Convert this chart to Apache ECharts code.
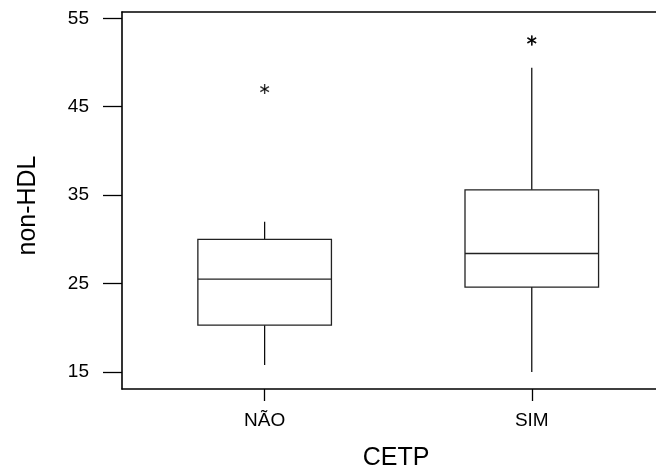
<!DOCTYPE html>
<html>
<head>
<meta charset="utf-8">
<script src="https://cdn.jsdelivr.net/npm/echarts@6/dist/echarts.min.js"></script>
<style>
  html, body { margin: 0; padding: 0; background: #fff; }
  #chart { width: 656px; height: 476px; }
</style>
</head>
<body>
<div id="chart"></div>
<script>
// categories sit at x = 1, 2 on a value axis
const categories = ['NÃO', 'SIM'];
const catPos = [1, 2];
const lowWhisker = [15.8, 15.0];
const q1 = [20.3, 24.6];
const median = [25.5, 28.4];
const q3 = [30.0, 35.6];
const highWhisker = [32.0, 49.4];
// outliers
const outlierPos = [1, 2, 2];
const outlierValue = [47.0, 52.5, 52.5];
const yTicks = [15, 25, 35, 45, 55];

const font = 'Liberation Sans, Arial, sans-serif';

const boxData = catPos.map((p, i) => [p, lowWhisker[i], q1[i], median[i], q3[i], highWhisker[i]]);
const outData = outlierPos.map((p, i) => [p, outlierValue[i]]);

function renderBox(params, api) {
  const x = api.value(0);
  const half = api.size([0.5, 0])[0] / 2;
  const lo = api.coord([x, api.value(1)]);
  const b1 = api.coord([x, api.value(2)]);
  const md = api.coord([x, api.value(3)]);
  const b3 = api.coord([x, api.value(4)]);
  const hi = api.coord([x, api.value(5)]);
  const cx = lo[0];
  const whisk = { stroke: '#000', lineWidth: 1.2 };
  const box = { stroke: '#222', lineWidth: 1.3, fill: null };
  return {
    type: 'group',
    children: [
      { type: 'line', shape: { x1: cx, y1: lo[1], x2: cx, y2: b1[1] }, style: whisk },
      { type: 'line', shape: { x1: cx, y1: b3[1], x2: cx, y2: hi[1] }, style: whisk },
      { type: 'rect', shape: { x: cx - half, y: b3[1], width: half * 2, height: b1[1] - b3[1] }, style: box },
      { type: 'line', shape: { x1: cx - half, y1: md[1], x2: cx + half, y2: md[1] }, style: box }
    ]
  };
}

// asterisk = three thin rotated bars
const starSeries = [0, 60, -60].map(a => ({
  type: 'scatter',
  data: outData,
  symbol: 'rect',
  symbolSize: [1.4, 10],
  symbolRotate: a,
  itemStyle: { color: '#000' },
  silent: true,
  z: 5
}));

const chart = echarts.init(document.getElementById('chart'));
chart.setOption({
  animation: false,
  grid: { left: 122, right: 0, top: 12, bottom: 86 },
  xAxis: [
    {
      type: 'value',
      min: 0.466,
      max: 2.465,
      position: 'bottom',
      name: 'CETP',
      nameLocation: 'middle',
      nameGap: 57,
      nameTextStyle: { fontSize: 25, color: '#000', fontFamily: font, padding: [0, 0, 0, 14] },
      axisLine: { show: true, lineStyle: { color: '#000', width: 1.6 } },
      axisTick: { show: true, length: 12, customValues: catPos, lineStyle: { color: '#000', width: 1.3 } },
      axisLabel: {
        customValues: catPos,
        margin: 22,
        fontSize: 19,
        color: '#000',
        fontFamily: font,
        formatter: v => categories[Math.round(v) - 1]
      },
      splitLine: { show: false }
    },
    {
      type: 'value',
      min: 0.466,
      max: 2.465,
      position: 'top',
      axisLine: { show: true, lineStyle: { color: '#000', width: 1.6 } },
      axisTick: { show: false },
      axisLabel: { show: false },
      splitLine: { show: false }
    }
  ],
  yAxis: {
    type: 'value',
    min: 13.08,
    max: 55.71,
    name: 'non-HDL',
    nameLocation: 'middle',
    nameGap: 81,
    nameRotate: 90,
    nameTextStyle: { fontSize: 25, color: '#000', fontFamily: font, padding: [0, 10, 0, 0] },
    axisLine: { show: true, lineStyle: { color: '#000', width: 1.6 } },
    axisTick: { show: true, length: 19, customValues: yTicks, lineStyle: { color: '#000', width: 1.3 } },
    axisLabel: { customValues: yTicks, margin: 33, fontSize: 19, color: '#000', fontFamily: font },
    splitLine: { show: false }
  },
  series: [
    {
      type: 'custom',
      renderItem: renderBox,
      data: boxData,
      encode: { x: 0, y: [1, 2, 3, 4, 5] },
      silent: true
    }
  ].concat(starSeries)
});
</script>
</body>
</html>
